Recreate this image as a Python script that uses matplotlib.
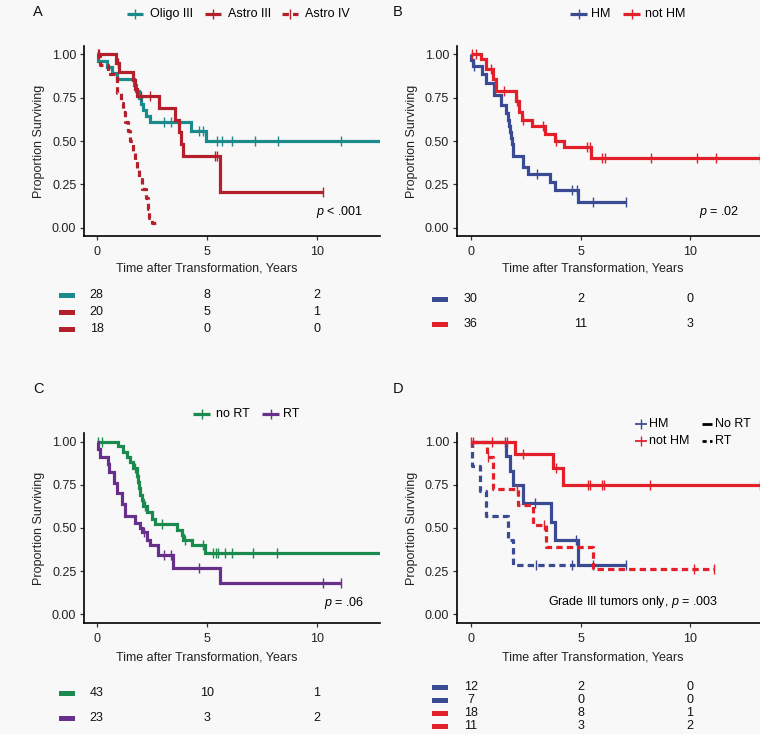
import numpy as np
import matplotlib
matplotlib.use('Agg')
import matplotlib.pyplot as plt
from matplotlib.lines import Line2D
from matplotlib.patches import Rectangle

plt.rcParams['font.family'] = ['Liberation Sans', 'DejaVu Sans']
plt.rcParams['mathtext.fontset'] = 'custom'
plt.rcParams['mathtext.it'] = 'Liberation Sans:italic'
plt.rcParams['mathtext.rm'] = 'Liberation Sans'

# ---------------- data ----------------
risk_times = [0, 5, 10]
y_ticks = [0.0, 0.25, 0.50, 0.75, 1.00]
y_ticklabels = ['0.00', '0.25', '0.50', '0.75', '1.00']
x_ticks = [0, 5, 10]

# Panel A
oligo_t = [0, 0.05, 0.48, 0.71, 0.94, 1.70, 1.80, 1.92, 2.00, 2.12, 2.23, 2.41, 4.27, 4.95]
oligo_s = [1.0, 0.964, 0.929, 0.893, 0.857, 0.821, 0.786, 0.75, 0.714, 0.679, 0.643, 0.607, 0.557, 0.5]
oligo_end = 13.5
oligo_cens = [3.06, 3.39, 4.65, 4.85, 5.45, 5.68, 6.14, 7.2, 8.26, 11.1]
oligo_risk = [28, 8, 2]

astro3_t = [0, 0.88, 1.0, 1.66, 1.75, 1.82, 2.85, 3.56, 3.74, 3.85, 3.92, 5.6]
astro3_s = [1.0, 0.95, 0.90, 0.85, 0.80, 0.76, 0.69, 0.62, 0.55, 0.485, 0.415, 0.208]
astro3_end = 10.3
astro3_cens = [0.1, 0.95, 2.0, 2.43, 5.38, 5.49, 10.3]
astro3_risk = [20, 5, 1]

astro4_t = [0, 0.15, 0.5, 0.9, 0.94, 1.12, 1.2, 1.3, 1.42, 1.52, 1.65, 1.75, 1.82, 1.92, 2.05, 2.25, 2.32, 2.38, 2.5]
astro4_s = [1.0, 0.94, 0.885, 0.83, 0.775, 0.72, 0.665, 0.61, 0.555, 0.5, 0.445, 0.39, 0.335, 0.28, 0.225, 0.17, 0.11, 0.055, 0.03]
astro4_end = 2.8
astro4_cens = [0.05]
astro4_risk = [18, 0, 0]

# Panel B
hm_t = [0, 0.02, 0.08, 0.48, 0.70, 1.05, 1.38, 1.60, 1.70, 1.74, 1.78, 1.82, 1.86, 1.90, 1.93, 2.38, 2.60, 3.60, 3.85, 4.90]
hm_s = [1.0, 0.967, 0.933, 0.885, 0.833, 0.765, 0.71, 0.66, 0.62, 0.585, 0.55, 0.52, 0.485, 0.45, 0.415, 0.35, 0.31, 0.265, 0.22, 0.147]
hm_end = 7.1
hm_cens = [0.15, 3.0, 4.6, 4.83, 5.58, 7.1]
hm_risk = [30, 2, 0]

nhm_t = [0, 0.45, 0.7, 1.0, 1.15, 2.05, 2.2, 2.35, 2.8, 3.4, 3.85, 4.25, 5.5]
nhm_s = [1.0, 0.972, 0.917, 0.86, 0.79, 0.73, 0.67, 0.62, 0.585, 0.54, 0.50, 0.465, 0.40]
nhm_end = 13.2
nhm_cens = [0.05, 0.25, 0.9, 1.5, 2.1, 2.38, 3.3, 3.9, 5.3, 5.42, 5.98, 6.14, 8.2, 10.3, 11.2, 13.2]
nhm_risk = [36, 11, 3]

# Panel C
nort_t = [0, 0.98, 1.2, 1.36, 1.51, 1.66, 1.82, 1.87, 1.92, 1.97, 2.04, 2.12, 2.27, 2.5, 2.65, 3.64, 3.86, 3.94, 4.32, 4.92]
nort_s = [1.0, 0.977, 0.942, 0.913, 0.88, 0.85, 0.80, 0.765, 0.73, 0.69, 0.66, 0.625, 0.59, 0.555, 0.523, 0.49, 0.46, 0.43, 0.40, 0.357]
nort_end = 13.5
nort_cens = [0.08, 0.23, 1.74, 2.2, 2.95, 4.01, 4.85, 5.3, 5.42, 5.53, 5.83, 6.14, 7.12, 8.18]
nort_risk = [43, 10, 1]

rt_t = [0, 0.05, 0.15, 0.5, 0.56, 0.78, 0.92, 1.15, 1.27, 1.75, 1.95, 2.07, 2.28, 2.42, 2.8, 3.48, 5.6]
rt_s = [1.0, 0.957, 0.913, 0.87, 0.826, 0.76, 0.70, 0.64, 0.572, 0.53, 0.50, 0.475, 0.43, 0.40, 0.345, 0.27, 0.18]
rt_end = 11.1
rt_cens = [2.16, 3.07, 3.38, 4.65, 10.3, 11.1]
rt_risk = [23, 3, 2]

# Panel D
hmn_t = [0, 1.6, 1.78, 1.9, 2.36, 3.65, 3.85, 4.87]
hmn_s = [1.0, 0.917, 0.833, 0.75, 0.643, 0.536, 0.429, 0.286]
hmn_end = 7.1
hmn_cens = [1.57, 2.93, 4.8, 5.56, 7.08]
hmn_risk = [12, 2, 0]

hmr_t = [0, 0.05, 0.43, 0.7, 1.68, 1.92]
hmr_s = [1.0, 0.857, 0.714, 0.571, 0.429, 0.286]
hmr_end = 4.75
hmr_cens = [2.97, 4.6]
hmr_risk = [7, 0, 0]

nhmn_t = [0, 2.0, 3.76, 4.21]
nhmn_s = [1.0, 0.929, 0.846, 0.749]
nhmn_end = 13.2
nhmn_cens = [0.02, 0.1, 0.94, 1.63, 2.38, 3.9, 5.36, 5.42, 5.97, 6.07, 8.17, 13.2]
nhmn_risk = [18, 8, 1]

nhmr_t = [0, 0.72, 1.02, 2.13, 2.82, 3.42, 5.55]
nhmr_s = [1.0, 0.909, 0.727, 0.636, 0.52, 0.39, 0.26]
nhmr_end = 11.1
nhmr_cens = [0.76, 2.1, 3.35, 10.2, 11.1]
nhmr_risk = [11, 3, 2]

# ---------------- style ----------------
W, H = 760, 734
BG = '#f8f8f8'
TEAL = '#1a8a8a'
DRED = '#b31f2b'
BLUE = '#3b4b93'
RED = '#e3202a'
GREEN = '#1b8a4f'
PURPLE = '#67308a'
LW = 2.3
DASH = (0, (2.0, 1.3))
FS = 9

fig = plt.figure(figsize=(W / 100, H / 100), dpi=100, facecolor=BG)


def fpos(l, t, r, b):
    return [l / W, 1 - b / H, (r - l) / W, (b - t) / H]


def make_ax(l, t, r, b, x0px, x10px, xlab_cx, xlab_top):
    ax = fig.add_axes(fpos(l, t, r, b))
    ax.set_facecolor('none')
    ppy = (x10px - x0px) / 10.0
    ax.set_xlim((l - x0px) / ppy, (r - x0px) / ppy)
    ax.set_ylim(-0.05, 1.05)
    for sp in ['top', 'right']:
        ax.spines[sp].set_visible(False)
    for sp in ['left', 'bottom']:
        ax.spines[sp].set_linewidth(1.2)
        ax.spines[sp].set_color('black')
    ax.set_xticks(x_ticks)
    ax.set_yticks(y_ticks)
    ax.set_yticklabels(y_ticklabels)
    ax.tick_params(length=3, width=0.9, color='#333333', labelsize=FS,
                   labelcolor='#222222')
    ax.tick_params(axis='x', pad=4)
    ax.tick_params(axis='y', pad=2.5)
    ax.set_xlabel('Time after Transformation, Years', fontsize=FS, color='#222222')
    ax.xaxis.set_label_coords((xlab_cx - l) / (r - l), (b - xlab_top) / (b - t))
    ax.set_ylabel('Proportion Surviving', fontsize=FS, labelpad=5, color='#222222')
    return ax


def km(ax, t, s, end, cens, color, ls='-'):
    tt = list(t) + [end]
    ss = list(s) + [s[-1]]
    ax.step(tt, ss, where='post', color=color, lw=LW, ls=ls,
            solid_capstyle='butt', dash_capstyle='butt', solid_joinstyle='miter')
    idx = np.searchsorted(np.array(t), np.array(cens), side='right') - 1
    ax.plot(cens, np.array(s)[idx], ls='none', marker='|', ms=6.5, mew=1.0,
            color=color, clip_on=False)


axA = make_ax(84, 45.6, 380, 236.4, 96.7, 316.7, 207, 263)
km(axA, oligo_t, oligo_s, oligo_end, oligo_cens, TEAL)
km(axA, astro3_t, astro3_s, astro3_end, astro3_cens, DRED)
km(axA, astro4_t, astro4_s, astro4_end, astro4_cens, DRED, DASH)

axB = make_ax(456.7, 45.6, 760, 236.4, 471, 690, 593, 263)
km(axB, hm_t, hm_s, hm_end, hm_cens, BLUE)
km(axB, nhm_t, nhm_s, nhm_end, nhm_cens, RED)

axC = make_ax(84, 433.1, 380, 622.9, 96.7, 316.7, 207, 651)
km(axC, nort_t, nort_s, nort_end, nort_cens, GREEN)
km(axC, rt_t, rt_s, rt_end, rt_cens, PURPLE)

axD = make_ax(456.7, 433.1, 760, 622.9, 471, 690, 593, 651)
km(axD, hmn_t, hmn_s, hmn_end, hmn_cens, BLUE)
km(axD, hmr_t, hmr_s, hmr_end, hmr_cens, BLUE, DASH)
km(axD, nhmn_t, nhmn_s, nhmn_end, nhmn_cens, RED)
km(axD, nhmr_t, nhmr_s, nhmr_end, nhmr_cens, RED, DASH)

# overlay in pixel coordinates for annotations
ov = fig.add_axes([0, 0, 1, 1])
ov.set_xlim(0, W)
ov.set_ylim(H, 0)
ov.axis('off')

for lab, (x, y) in zip('ABCD', [(38, 12), (398, 12), (38, 389), (398, 389)]):
    ov.text(x, y, lab, fontsize=10.5, ha='center', va='center', color='#111111')


def leg_key(x0, x1, y, color, ls='-', marker=True, lw=LW):
    ov.add_line(Line2D([x0, x1], [y, y], color=color, lw=lw, ls=ls,
                       solid_capstyle='butt', dash_capstyle='butt'))
    if marker:
        ov.plot([(x0 + x1) / 2], [y], marker='|', ms=6.5, mew=1.0, color=color)


# legend A
leg_key(127, 143, 14, TEAL)
ov.text(150, 14, 'Oligo III', fontsize=FS, va='center')
leg_key(205, 221, 14, DRED)
ov.text(228, 14, 'Astro III', fontsize=FS, va='center')
leg_key(282, 298, 14, DRED, DASH)
ov.text(305, 14, 'Astro IV', fontsize=FS, va='center')
# legend B
leg_key(570, 587, 14, BLUE)
ov.text(591, 14, 'HM', fontsize=FS, va='center')
leg_key(623, 640, 14, RED)
ov.text(645, 14, 'not HM', fontsize=FS, va='center')
# legend C
leg_key(193, 210, 414, GREEN)
ov.text(216, 414, 'no RT', fontsize=FS, va='center')
leg_key(262, 279, 414, PURPLE)
ov.text(283, 414, 'RT', fontsize=FS, va='center')
# legend D
leg_key(635, 647, 424, BLUE, lw=1.3)
ov.text(649, 424, 'HM', fontsize=FS, va='center')
leg_key(635, 647, 441, RED, lw=1.3)
ov.text(649, 441, 'not HM', fontsize=FS, va='center')
leg_key(702, 712, 424, 'black', marker=False, lw=2.0)
ov.text(715, 424, 'No RT', fontsize=FS, va='center')
leg_key(702, 712, 441, 'black', ls=(0, (1.5, 1.2)), marker=False, lw=2.0)
ov.text(715, 441, 'RT', fontsize=FS, va='center')

# p-values
ov.text(363, 212, r'$p$ < .001', fontsize=FS, ha='right', va='center')
ov.text(739, 212, r'$p$ = .02', fontsize=FS, ha='right', va='center')
ov.text(364, 603, r'$p$ = .06', fontsize=FS, ha='right', va='center')
ov.text(718, 602, r'Grade III tumors only, $p$ = .003', fontsize=FS, ha='right', va='center')


# risk tables
def risk_table(ax, key_x0, key_x1, rows):
    for ypx, color, vals in rows:
        ov.add_patch(Rectangle((key_x0, ypx - 2.5), key_x1 - key_x0, 5, color=color, lw=0))
        for tm, v in zip(risk_times, vals):
            xpx = ov.transData.inverted().transform(ax.transData.transform((tm, 0)))[0]
            ov.text(xpx, ypx, str(v), fontsize=FS, ha='center', va='center', color='#111111')


fig.canvas.draw()
risk_table(axA, 59, 75, [(295, TEAL, oligo_risk), (312, DRED, astro3_risk), (329, DRED, astro4_risk)])
risk_table(axB, 432, 448, [(299, BLUE, hm_risk), (324, RED, nhm_risk)])
risk_table(axC, 59, 75, [(693, GREEN, nort_risk), (718, PURPLE, rt_risk)])
risk_table(axD, 432, 448, [(687, BLUE, hmn_risk), (700, BLUE, hmr_risk), (713, RED, nhmn_risk), (726, RED, nhmr_risk)])

fig.savefig('out.png', dpi=100, facecolor=BG)
